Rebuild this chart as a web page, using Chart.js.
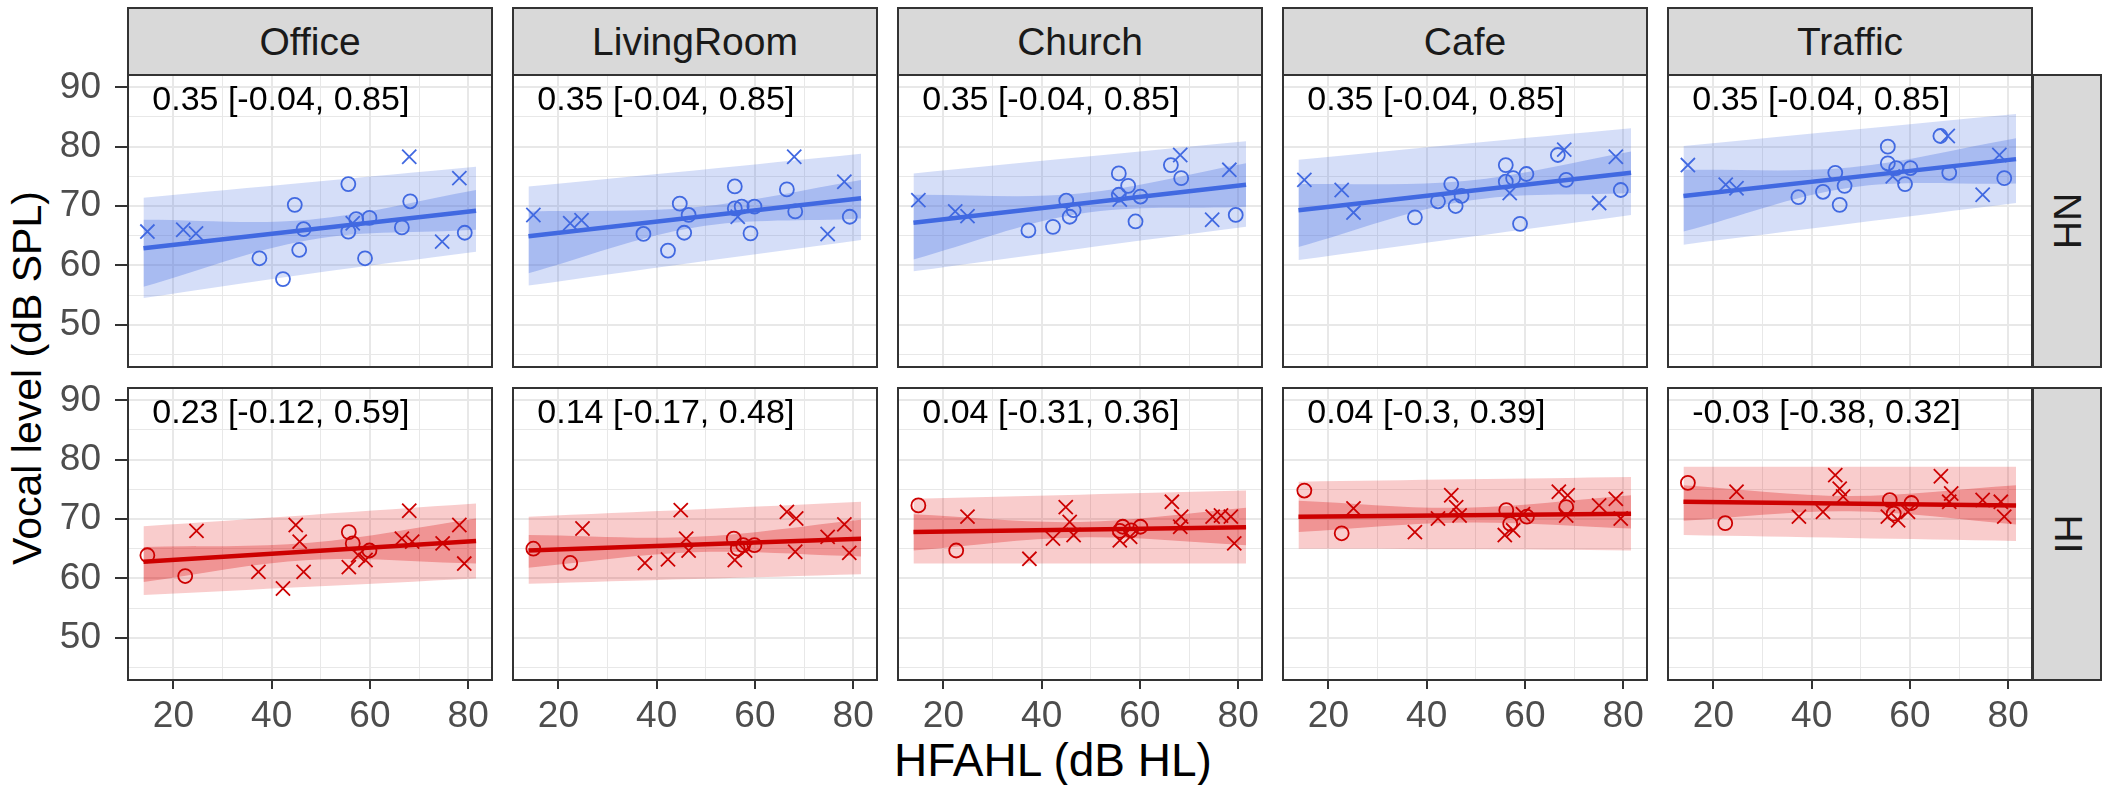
<!DOCTYPE html>
<html><head><meta charset="utf-8">
<script src="https://cdn.jsdelivr.net/npm/chart.js@4.4.1/dist/chart.umd.min.js"></script>
<style>
body{margin:0;background:#fff;width:2107px;height:785px;position:relative;overflow:hidden;font-family:'Liberation Sans',Arial,sans-serif;}
.strip{position:absolute;background:#D9D9D9;border:2px solid #333;box-sizing:border-box;display:flex;align-items:center;justify-content:center;color:#1a1a1a;font-size:39px;}
.rstrip span{transform:rotate(90deg);display:block;}
canvas{position:absolute;}
.title{position:absolute;color:#000;white-space:nowrap;transform:translate(-50%,-50%);}
</style></head><body>
<script>
// ---------- categories / labels ----------
const environments = ['Office','LivingRoom','Church','Cafe','Traffic'];
const groups = ['NH','HI'];
const xTicks = [20,30,40,50,60,70,80];
const yTicks = [45,50,55,60,65,70,75,80,85,90];
const estimatesNH = ['0.35 [-0.04, 0.85]','0.35 [-0.04, 0.85]','0.35 [-0.04, 0.85]','0.35 [-0.04, 0.85]','0.35 [-0.04, 0.85]'];
const estimatesHI = ['0.23 [-0.12, 0.59]','0.14 [-0.17, 0.48]','0.04 [-0.31, 0.36]','0.04 [-0.3, 0.39]','-0.03 [-0.38, 0.32]'];
const lineX = [13.9, 81.6];
const bandX = [13.9, 47.7, 81.6];

// ---------- NH ----------
const nhOfficeCircles = [[37.5,61.2],[42.3,57.7],[44.7,70.2],[46.5,66.1],[45.6,62.6],[55.6,73.7],[55.6,65.7],[57.2,67.8],[59.9,68.0],[59.0,61.2],[68.2,70.8],[66.5,66.4],[79.3,65.5]];
const nhOfficeCrosses = [[14.7,65.7],[22.0,66.0],[24.6,65.4],[56.5,67.1],[68.0,78.3],[78.2,74.7],[74.7,64.0]];
const nhOfficeLine = [62.9,69.2];
const nhOfficeOuterHi = [71.4,74.0,76.6];
const nhOfficeOuterLo = [54.5,58.6,62.3];
const nhOfficeInnerHi = [67.7,67.7,72.7];
const nhOfficeInnerLo = [56.4,64.3,66.0];

const nhLivingCircles = [[37.3,65.3],[42.3,62.5],[44.7,70.4],[46.5,68.5],[45.6,65.5],[55.9,73.3],[55.9,69.6],[57.3,69.9],[59.9,69.9],[59.1,65.4],[66.5,72.8],[68.2,69.1],[79.3,68.2]];
const nhLivingCrosses = [[14.9,68.5],[22.4,67.1],[24.7,67.6],[56.5,68.2],[68.0,78.3],[78.2,74.1],[74.8,65.3]];
const nhLivingLine = [64.9,71.3];
const nhLivingOuterHi = [73.3,76.0,78.8];
const nhLivingOuterLo = [56.6,60.5,64.3];
const nhLivingInnerHi = [69.1,69.8,74.4];
const nhLivingInnerLo = [58.7,66.4,67.9];

const nhChurchCircles = [[37.3,65.9],[42.3,66.5],[45.0,70.9],[46.5,69.3],[45.7,68.2],[55.7,75.5],[55.7,71.9],[57.6,73.4],[60.1,71.6],[59.1,67.4],[66.3,76.9],[68.4,74.7],[79.5,68.5]];
const nhChurchCrosses = [[14.9,71.0],[22.4,69.1],[24.9,68.3],[55.9,71.1],[68.2,78.6],[78.2,76.1],[74.7,67.7]];
const nhChurchLine = [67.2,73.6];
const nhChurchOuterHi = [75.5,78.2,80.9];
const nhChurchOuterLo = [59.0,62.8,66.5];
const nhChurchInnerHi = [71.9,72.1,77.2];
const nhChurchInnerLo = [61.0,68.7,69.9];

const nhCafeCircles = [[37.6,68.1],[42.3,70.8],[45.0,73.7],[47.1,71.7],[45.9,70.0],[56.1,76.9],[56.1,74.1],[57.6,74.7],[60.3,75.4],[59.0,67.0],[66.7,78.6],[68.4,74.4],[79.5,72.7]];
const nhCafeCrosses = [[15.1,74.4],[22.7,72.7],[25.1,68.9],[56.9,72.2],[68.0,79.5],[78.5,78.3],[75.1,70.5]];
const nhCafeLine = [69.3,75.6];
const nhCafeOuterHi = [77.8,80.5,83.1];
const nhCafeOuterLo = [60.9,64.7,68.5];
const nhCafeInnerHi = [73.7,74.2,79.2];
const nhCafeInnerLo = [63.1,70.8,72.2];

const nhTrafficCircles = [[37.3,71.5],[42.3,72.4],[44.8,75.6],[46.7,73.4],[45.7,70.2],[55.5,80.0],[55.5,77.2],[57.2,76.4],[60.1,76.4],[59.0,73.7],[66.2,81.8],[68.0,75.6],[79.2,74.7]];
const nhTrafficCrosses = [[14.8,76.9],[22.5,73.6],[24.7,73.0],[56.5,75.0],[67.7,81.8],[78.2,78.6],[74.8,71.9]];
const nhTrafficLine = [71.7,77.9];
const nhTrafficOuterHi = [80.1,82.8,85.5];
const nhTrafficOuterLo = [63.5,67.0,70.5];
const nhTrafficInnerHi = [76.1,76.5,81.4];
const nhTrafficInnerLo = [65.7,73.1,73.8];

// ---------- HI ----------
const hiOfficeCircles = [[14.7,63.9],[22.4,60.4],[55.7,67.8],[56.5,65.9],[59.9,64.7]];
const hiOfficeCrosses = [[24.7,68.0],[37.3,61.1],[42.3,58.3],[44.9,69.0],[45.7,66.2],[46.5,61.1],[55.7,61.9],[57.6,63.9],[59.1,63.1],[66.5,66.7],[68.6,66.2],[68.0,71.4],[74.8,65.9],[78.2,69.0],[79.2,62.5]];
const hiOfficeLine = [62.8,66.3];
const hiOfficeOuterHi = [68.8,70.7,72.6];
const hiOfficeOuterLo = [57.2,58.6,60.0];
const hiOfficeInnerHi = [65.3,66.0,70.1];
const hiOfficeInnerLo = [59.4,63.1,62.5];

const hiLivingCircles = [[14.9,65.0],[22.4,62.6],[55.7,66.7],[56.5,65.0],[57.6,65.6],[59.9,65.6]];
const hiLivingCrosses = [[24.9,68.4],[37.6,62.6],[42.3,63.2],[44.9,71.5],[46.0,66.7],[46.5,64.7],[55.9,63.1],[58.0,64.7],[66.5,71.2],[68.4,70.1],[68.2,64.5],[74.8,67.0],[78.2,69.1],[79.2,64.3]];
const hiLivingLine = [64.7,66.7];
const hiLivingOuterHi = [70.4,71.6,72.9];
const hiLivingOuterLo = [59.1,59.9,60.7];
const hiLivingInnerHi = [67.3,67.0,69.9];
const hiLivingInnerLo = [61.8,64.4,63.7];

const hiChurchCircles = [[14.9,72.3],[22.6,64.7],[55.9,68.0],[56.5,68.7],[58.2,68.1],[60.1,68.7]];
const hiChurchCrosses = [[24.9,70.4],[37.5,63.3],[42.3,66.7],[44.9,72.0],[45.7,69.5],[46.5,67.3],[55.9,66.4],[58.0,67.0],[66.5,72.9],[68.4,70.4],[68.2,68.7],[74.8,70.4],[76.5,70.6],[78.5,70.4],[79.2,65.9]];
const hiChurchLine = [67.8,68.6];
const hiChurchOuterHi = [73.4,74.1,74.8];
const hiChurchOuterLo = [62.5,62.5,62.5];
const hiChurchInnerHi = [70.8,69.5,71.9];
const hiChurchInnerLo = [64.7,66.9,65.6];

const hiCafeCircles = [[15.1,74.8],[22.7,67.6],[56.2,71.5],[57.0,69.2],[60.4,70.4],[68.4,72.0]];
const hiCafeCrosses = [[25.1,71.8],[37.6,67.8],[42.3,70.1],[45.0,74.0],[46.0,72.0],[46.7,70.6],[55.9,67.3],[57.6,68.1],[59.6,70.8],[66.9,74.6],[68.7,74.0],[68.4,70.6],[75.1,72.3],[78.5,73.4],[79.5,70.1]];
const hiCafeLine = [70.4,70.9];
const hiCafeOuterHi = [76.3,76.7,77.1];
const hiCafeOuterLo = [65.0,64.9,64.7];
const hiCafeInnerHi = [73.1,71.9,74.0];
const hiCafeInnerLo = [67.8,69.4,68.4];

const hiTrafficCircles = [[14.8,76.1],[22.4,69.3],[55.9,73.2],[56.7,70.9],[60.3,72.7]];
const hiTrafficCrosses = [[24.7,74.6],[37.4,70.4],[42.3,71.2],[44.8,77.4],[45.7,75.1],[46.4,73.8],[55.5,70.4],[57.6,69.8],[59.6,71.2],[66.3,77.2],[68.4,74.3],[68.0,72.9],[74.8,73.2],[78.5,72.9],[79.2,70.4]];
const hiTrafficLine = [72.9,72.3];
const hiTrafficOuterHi = [78.8,78.8,78.8];
const hiTrafficOuterLo = [67.3,66.8,66.3];
const hiTrafficInnerHi = [75.7,73.9,75.7];
const hiTrafficInnerLo = [69.7,71.3,69.1];

// ---------- assemble ----------
const panelData = {
  NH: [
    {c:nhOfficeCircles,x:nhOfficeCrosses,l:nhOfficeLine,oh:nhOfficeOuterHi,ol:nhOfficeOuterLo,ih:nhOfficeInnerHi,il:nhOfficeInnerLo},
    {c:nhLivingCircles,x:nhLivingCrosses,l:nhLivingLine,oh:nhLivingOuterHi,ol:nhLivingOuterLo,ih:nhLivingInnerHi,il:nhLivingInnerLo},
    {c:nhChurchCircles,x:nhChurchCrosses,l:nhChurchLine,oh:nhChurchOuterHi,ol:nhChurchOuterLo,ih:nhChurchInnerHi,il:nhChurchInnerLo},
    {c:nhCafeCircles,x:nhCafeCrosses,l:nhCafeLine,oh:nhCafeOuterHi,ol:nhCafeOuterLo,ih:nhCafeInnerHi,il:nhCafeInnerLo},
    {c:nhTrafficCircles,x:nhTrafficCrosses,l:nhTrafficLine,oh:nhTrafficOuterHi,ol:nhTrafficOuterLo,ih:nhTrafficInnerHi,il:nhTrafficInnerLo}
  ],
  HI: [
    {c:hiOfficeCircles,x:hiOfficeCrosses,l:hiOfficeLine,oh:hiOfficeOuterHi,ol:hiOfficeOuterLo,ih:hiOfficeInnerHi,il:hiOfficeInnerLo},
    {c:hiLivingCircles,x:hiLivingCrosses,l:hiLivingLine,oh:hiLivingOuterHi,ol:hiLivingOuterLo,ih:hiLivingInnerHi,il:hiLivingInnerLo},
    {c:hiChurchCircles,x:hiChurchCrosses,l:hiChurchLine,oh:hiChurchOuterHi,ol:hiChurchOuterLo,ih:hiChurchInnerHi,il:hiChurchInnerLo},
    {c:hiCafeCircles,x:hiCafeCrosses,l:hiCafeLine,oh:hiCafeOuterHi,ol:hiCafeOuterLo,ih:hiCafeInnerHi,il:hiCafeInnerLo},
    {c:hiTrafficCircles,x:hiTrafficCrosses,l:hiTrafficLine,oh:hiTrafficOuterHi,ol:hiTrafficOuterLo,ih:hiTrafficInnerHi,il:hiTrafficInnerLo}
  ]
};
const estimates = {NH: estimatesNH, HI: estimatesHI};

// ---------- layout / style ----------
const colLeft = [127, 512, 897, 1282, 1667];
const panelW = 366;
const rowTop = [74, 387];
const panelH = 294;
const yAxisW = 127;
const xAxisH = 64;
const padTop = 24;
const styles = {
  NH: {main:'#4169E1', outer:'rgba(65,105,225,0.22)', inner:'rgba(65,105,225,0.30)'},
  HI: {main:'#CD0000', outer:'rgba(225,0,0,0.20)', inner:'rgba(215,0,0,0.28)'}
};
const FONT = "'Liberation Sans', Arial, sans-serif";

const panelDeco = {
  id: 'panelDeco',
  afterDraw(chart, args, opts) {
    const {ctx, chartArea: a, scales} = chart;
    ctx.save();
    ctx.font = '34px ' + FONT;
    ctx.fillStyle = '#000';
    ctx.textBaseline = 'middle';
    ctx.textAlign = 'left';
    ctx.fillText(opts.text, scales.x.getPixelForValue(opts.tx), scales.y.getPixelForValue(opts.ty));
    ctx.strokeStyle = '#333';
    ctx.lineWidth = 2;
    ctx.strokeRect(a.left + 1, a.top + 1, a.width - 2, a.height - 2);
    ctx.restore();
  }
};

function pts(xs, ys) { return xs.map((x, i) => ({x: x, y: ys[i]})); }
function zeroPad(s) { s.paddingTop = 0; s.paddingBottom = 0; s.paddingLeft = 0; s.paddingRight = 0; }

function makePanel(r, c) {
  const g = groups[r];
  const d = panelData[g][c];
  const st = styles[g];
  const left = c === 0;
  const bottom = r === 1;
  const pt = left ? padTop : 0;
  const cv = document.createElement('canvas');
  const w = panelW + (left ? yAxisW : 0);
  const h = panelH + pt + (bottom ? xAxisH : 0);
  cv.width = w; cv.height = h;
  cv.style.left = (colLeft[c] - (left ? yAxisW : 0)) + 'px';
  cv.style.top = (rowTop[r] - pt) + 'px';
  cv.style.width = w + 'px'; cv.style.height = h + 'px';
  document.body.appendChild(cv);

  const bandCommon = {type:'line', pointRadius:0, borderWidth:0, tension:0.35};
  new Chart(cv, {
    type: 'scatter',
    data: {
      datasets: [
        Object.assign({}, bandCommon, {data: pts(bandX, d.ol), fill:false, order:6}),
        Object.assign({}, bandCommon, {data: pts(bandX, d.oh), fill:'-1', backgroundColor: st.outer, order:5}),
        Object.assign({}, bandCommon, {data: pts(bandX, d.il), fill:false, order:4}),
        Object.assign({}, bandCommon, {data: pts(bandX, d.ih), fill:'-1', backgroundColor: st.inner, order:3}),
        {type:'line', data: pts(lineX, d.l), borderColor: st.main, borderWidth: 4.5, pointRadius:0, fill:false, order:2},
        {data: d.c.map(p => ({x:p[0], y:p[1]})), pointStyle:'circle', pointRadius:7, pointBorderWidth:1.8, borderColor: st.main, backgroundColor:'rgba(0,0,0,0)', order:1},
        {data: d.x.map(p => ({x:p[0], y:p[1]})), pointStyle:'crossRot', pointRadius:10, pointBorderWidth:1.8, borderColor: st.main, backgroundColor:'rgba(0,0,0,0)', order:0}
      ]
    },
    options: {
      responsive: false,
      animation: false,
      devicePixelRatio: 1,
      events: [],
      layout: {padding: {top: pt, left: 0, right: 0, bottom: 0}, autoPadding: false},
      plugins: {
        legend: {display:false},
        tooltip: {enabled:false},
        panelDeco: {text: estimates[g][c], tx: 15.7, ty: 87.7}
      },
      scales: {
        x: {
          type: 'linear', min: 10.55, max: 85.05,
          afterBuildTicks: s => { s.ticks = xTicks.map(v => ({value: v})); },
          afterFit: s => { s.height = bottom ? xAxisH : 0; zeroPad(s); },
          border: {display:false},
          grid: {
            color: '#E8E8E8',
            lineWidth: ctx => (ctx.tick && ctx.tick.value % 20 === 0) ? 2 : 1,
            drawTicks: bottom,
            tickLength: 8,
            tickWidth: 2,
            tickColor: ctx => (ctx.tick && ctx.tick.value % 20 === 0) ? '#333' : 'rgba(0,0,0,0)'
          },
          ticks: {
            display: bottom, autoSkip:false, maxRotation:0, padding: 6,
            color:'#4D4D4D', font:{family: FONT, size: 37},
            callback: v => (v % 20 === 0 ? String(v) : '')
          }
        },
        y: {
          type: 'linear', min: 42.72, max: 92.24,
          afterBuildTicks: s => { s.ticks = yTicks.map(v => ({value: v})); },
          afterFit: s => { s.width = left ? yAxisW : 0; zeroPad(s); },
          border: {display:false},
          grid: {
            color: '#E8E8E8',
            lineWidth: ctx => (ctx.tick && ctx.tick.value % 10 === 0) ? 2 : 1,
            drawTicks: left,
            tickLength: 12,
            tickWidth: 2,
            tickColor: ctx => (ctx.tick && ctx.tick.value % 10 === 0) ? '#333' : 'rgba(0,0,0,0)'
          },
          ticks: {
            display: left, autoSkip:false, padding: 14,
            color:'#4D4D4D', font:{family: FONT, size: 37},
            callback: v => (v % 10 === 0 ? String(v) : '')
          }
        }
      }
    },
    plugins: [panelDeco]
  });
}

// strips
environments.forEach((e, c) => {
  const s = document.createElement('div');
  s.className = 'strip';
  s.style.left = colLeft[c] + 'px'; s.style.top = '7px';
  s.style.width = panelW + 'px'; s.style.height = '69px';
  s.textContent = e;
  document.body.appendChild(s);
});
groups.forEach((g, r) => {
  const s = document.createElement('div');
  s.className = 'strip rstrip';
  s.style.left = (colLeft[4] + panelW - 1) + 'px'; s.style.top = rowTop[r] + 'px';
  s.style.width = '70px'; s.style.height = panelH + 'px';
  const sp = document.createElement('span'); sp.textContent = g; s.appendChild(sp);
  document.body.appendChild(s);
});
const yt = document.createElement('div');
yt.className = 'title'; yt.textContent = 'Vocal level (dB SPL)';
yt.style.fontSize = '41px';
yt.style.left = '27px'; yt.style.top = '378px';
yt.style.transform = 'translate(-50%,-50%) rotate(-90deg)';
document.body.appendChild(yt);
const xt = document.createElement('div');
xt.className = 'title'; xt.textContent = 'HFAHL (dB HL)';
xt.style.fontSize = '46px';
xt.style.left = '1053px'; xt.style.top = '760px';
document.body.appendChild(xt);

for (let r = 0; r < 2; r++) for (let c = 0; c < 5; c++) makePanel(r, c);
</script>
</body></html>
